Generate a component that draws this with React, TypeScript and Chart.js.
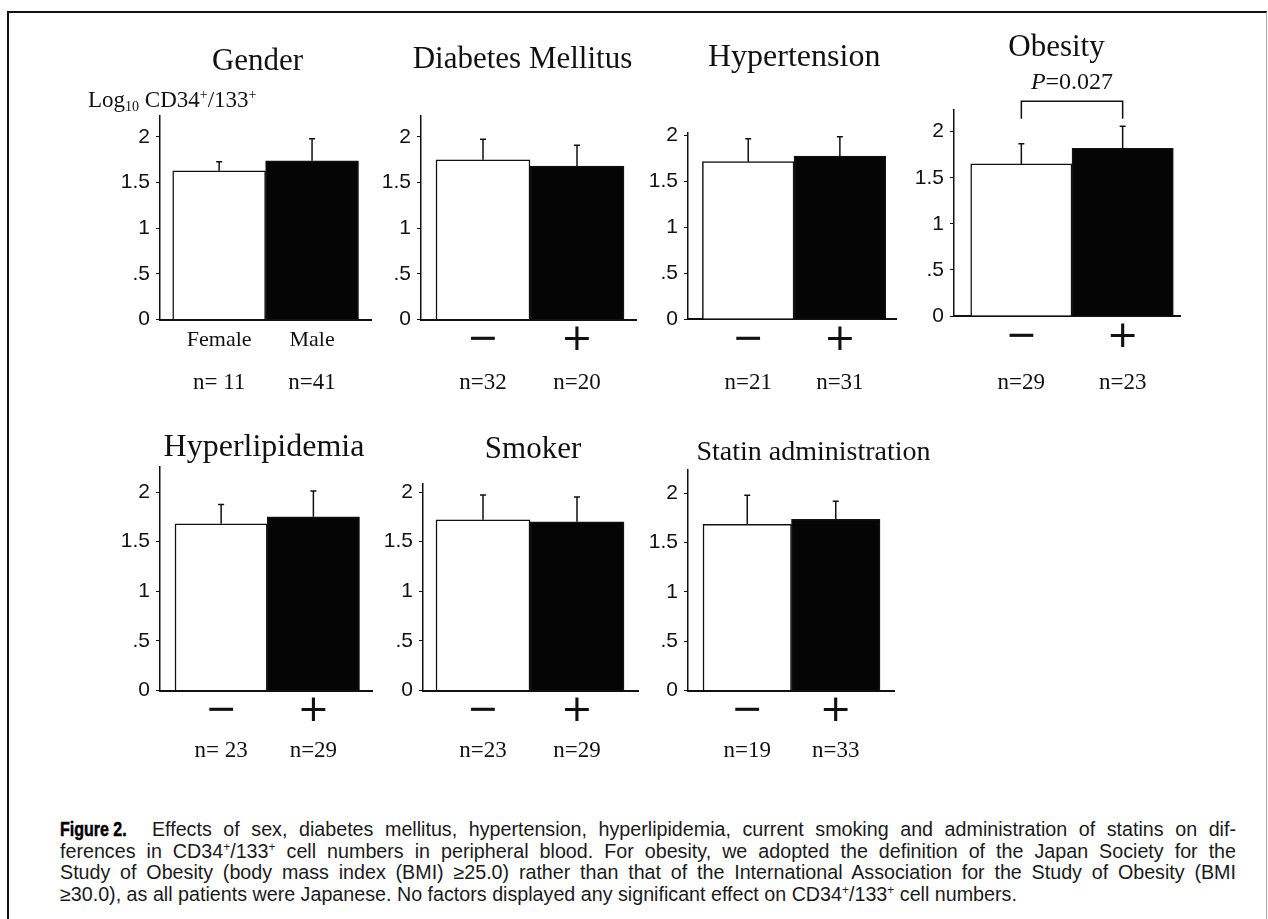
import React, { useEffect, useRef } from "react";
import { Chart, registerables } from "chart.js";

Chart.register(...registerables);

// ---------------- data ----------------
const panelTitles = [
  "Gender",
  "Diabetes Mellitus",
  "Hypertension",
  "Obesity",
  "Hyperlipidemia",
  "Smoker",
  "Statin administration",
];
const groupLabels = [
  ["Female", "Male"],
  ["\u2212", "+"],
  ["\u2212", "+"],
  ["\u2212", "+"],
  ["\u2212", "+"],
  ["\u2212", "+"],
  ["\u2212", "+"],
];
const nLabels = [
  ["n= 11", "n=41"],
  ["n=32", "n=20"],
  ["n=21", "n=31"],
  ["n=29", "n=23"],
  ["n= 23", "n=29"],
  ["n=23", "n=29"],
  ["n=19", "n=33"],
];
// mean of log10 CD34+/133+ : white bar (female / absent), black bar (male / present)
const meanWhite = [1.63, 1.75, 1.71, 1.65, 1.68, 1.72, 1.685];
const meanBlack = [1.74, 1.68, 1.77, 1.82, 1.75, 1.7, 1.735];
// upper error (SD)
const sdWhite = [0.1, 0.225, 0.25, 0.22, 0.195, 0.25, 0.295];
const sdBlack = [0.24, 0.23, 0.21, 0.24, 0.26, 0.25, 0.185];
const yMax = [2.23, 2.23, 2.02, 2.24, 2.25, 2.08, 2.24];
const yTickValues = [0, 0.5, 1, 1.5, 2];
const yTickLabels = ["0", ".5", "1", "1.5", "2"];
// significance (Obesity panel)
const sigPanel = 3;
const sigBracketTop = 2.33;
const sigBracketFoot = 2.14;
const sigLabelLevel = 2.53;
const sigLabelItalic = "P";
const sigLabelRest = "=0.027";

// ---------------- layout (pixels) ----------------
type Lay = {
  axisX: number; barStart: number; barEnd: number; baseEnd: number;
  zeroY: number; twoY: number; top: number; bottom: number;
  titleX: number; titleY: number; titleSize: number; nPad: number;
};
const layouts: Lay[] = [
  { axisX: 160, barStart: 172.7, barEnd: 358.5, baseEnd: 371, zeroY: 319.5, twoY: 137, top: 15, bottom: 405, titleX: 257.5, titleY: 61.7, titleSize: 31, nPad: 12 },
  { axisX: 421, barStart: 436, barEnd: 624, baseEnd: 636, zeroY: 319.5, twoY: 137, top: 15, bottom: 405, titleX: 522.5, titleY: 60, titleSize: 31, nPad: 12 },
  { axisX: 688.3, barStart: 702.7, barEnd: 886, baseEnd: 897, zeroY: 319, twoY: 135, top: 15, bottom: 405, titleX: 794.5, titleY: 58, titleSize: 32, nPad: 12 },
  { axisX: 954, barStart: 970.7, barEnd: 1173.3, baseEnd: 1180, zeroY: 316, twoY: 131.7, top: 15, bottom: 405, titleX: 1056.5, titleY: 48, titleSize: 31, nPad: 15 },
  { axisX: 160, barStart: 175, barEnd: 359.5, baseEnd: 372, zeroY: 690.6, twoY: 492, top: 400, bottom: 790, titleX: 264, titleY: 448, titleSize: 32, nPad: 9 },
  { axisX: 423, barStart: 436, barEnd: 624, baseEnd: 638, zeroY: 690.6, twoY: 492, top: 400, bottom: 790, titleX: 533, titleY: 450, titleSize: 31, nPad: 9 },
  { axisX: 688, barStart: 703, barEnd: 880, baseEnd: 894, zeroY: 690.6, twoY: 493.3, top: 400, bottom: 790, titleX: 813.5, titleY: 453, titleSize: 28, nPad: 9 },
];

const INK = "#111";
const SERIF = '"Liberation Serif", "DejaVu Serif", serif';
const SANS = '"Liberation Sans", Arial, sans-serif';

const errorBarPlugin = {
  id: "errorBars",
  afterDatasetsDraw(chart: any, _a: any, opts: any) {
    const { ctx } = chart;
    const y = chart.scales.y;
    const meta = chart.getDatasetMeta(0);
    ctx.save();
    ctx.strokeStyle = INK;
    ctx.lineWidth = 1.5;
    (opts.means as number[]).forEach((m, k) => {
      const x = meta.data[k].x;
      const y0 = y.getPixelForValue(m);
      const y1 = y.getPixelForValue(m + opts.sds[k]);
      ctx.beginPath();
      ctx.moveTo(x, y0);
      ctx.lineTo(x, y1);
      ctx.moveTo(x - 3, y1);
      ctx.lineTo(x + 3, y1);
      ctx.stroke();
    });
    ctx.restore();
  },
};

const panelTitlePlugin = {
  id: "panelTitle",
  afterDraw(chart: any, _a: any, opts: any) {
    const { ctx } = chart;
    ctx.save();
    ctx.fillStyle = INK;
    ctx.font = `${opts.size}px ${SERIF}`;
    ctx.textAlign = "center";
    ctx.textBaseline = "middle";
    ctx.fillText(opts.text, opts.x, opts.y);
    ctx.restore();
  },
};

const sigPlugin = {
  id: "sigBracket",
  afterDraw(chart: any, _a: any, opts: any) {
    if (!opts.show) return;
    const { ctx } = chart;
    const y = chart.scales.y;
    const meta = chart.getDatasetMeta(0);
    const x0 = meta.data[0].x;
    const x1 = meta.data[1].x;
    const yt = y.getPixelForValue(sigBracketTop);
    const yf = y.getPixelForValue(sigBracketFoot);
    ctx.save();
    ctx.strokeStyle = INK;
    ctx.lineWidth = 1.5;
    ctx.beginPath();
    ctx.moveTo(x0, yf);
    ctx.lineTo(x0, yt);
    ctx.lineTo(x1, yt);
    ctx.lineTo(x1, yf);
    ctx.stroke();
    const ly = y.getPixelForValue(sigLabelLevel);
    ctx.fillStyle = INK;
    ctx.textBaseline = "middle";
    ctx.textAlign = "left";
    ctx.font = `italic 24px ${SERIF}`;
    const w1 = ctx.measureText(sigLabelItalic).width;
    ctx.font = `24px ${SERIF}`;
    const w2 = ctx.measureText(sigLabelRest).width;
    const sx = (x0 + x1) / 2 - (w1 + w2) / 2;
    ctx.font = `italic 24px ${SERIF}`;
    ctx.fillText(sigLabelItalic, sx, ly);
    ctx.font = `24px ${SERIF}`;
    ctx.fillText(sigLabelRest, sx + w1, ly);
    ctx.restore();
  },
};

function Panel({ i }: { i: number }) {
  const ref = useRef<HTMLCanvasElement>(null);
  const L = layouts[i];
  const left = L.axisX - 90;
  const right = L.axisX + 300;
  const cw = right - left;
  const ch = L.bottom - L.top;

  useEffect(() => {
    const unit = (L.barEnd - L.barStart) / 2;
    const c0 = L.barStart + unit / 2;
    const xMin = (L.axisX - c0) / unit;
    const xMax = (L.baseEnd - c0) / unit;
    const pxPerUnit = (L.zeroY - L.twoY) / 2;
    const areaTop = L.zeroY - yMax[i] * pxPerUnit;
    const h1 = 40;
    const h2 = L.bottom - L.zeroY - h1;
    const idx = groupLabels[i].map((_, k) => k);
    const isGender = i === 0;

    const chart = new Chart(ref.current as HTMLCanvasElement, {
      type: "bar",
      data: {
        datasets: [
          {
            data: [
              { x: idx[0], y: meanWhite[i] },
              { x: idx[1], y: meanBlack[i] },
            ],
            backgroundColor: ["#ffffff", "#050505"],
            borderColor: INK,
            borderWidth: 1.5,
            barPercentage: 1,
            categoryPercentage: 1,
            xAxisID: "x",
            yAxisID: "y",
          } as any,
        ],
      },
      options: {
        animation: false,
        responsive: false,
        layout: {
          padding: { left: 0, top: areaTop - L.top, right: right - L.baseEnd, bottom: 0 },
        },
        plugins: {
          legend: { display: false },
          tooltip: { enabled: false },
          title: { display: false },
          errorBars: { means: [meanWhite[i], meanBlack[i]], sds: [sdWhite[i], sdBlack[i]] },
          panelTitle: { text: panelTitles[i], x: L.titleX - left, y: L.titleY - L.top, size: L.titleSize },
          sigBracket: { show: i === sigPanel },
        } as any,
        scales: {
          x: {
            type: "linear",
            position: "bottom",
            offset: false,
            weight: 0,
            min: xMin,
            max: xMax,
            afterBuildTicks: (s: any) => {
              s.ticks = idx.map((v) => ({ value: v }));
            },
            afterFit: (s: any) => {
              s.height = h1;
            },
            ticks: {
              autoSkip: false,
              maxRotation: 0,
              color: INK,
              padding: isGender ? 10 : 2,
              font: isGender
                ? { family: SERIF, size: 22, lineHeight: 1 }
                : { family: '"DejaVu Sans", sans-serif', size: 38, lineHeight: 1 },
              callback: (v: any) => groupLabels[i][Number(v)] ?? "",
            },
            grid: { display: false, drawTicks: false, offset: false },
            border: { display: true, color: INK, width: 2 },
          },
          x2: {
            type: "linear",
            position: "bottom",
            offset: false,
            weight: 1,
            min: xMin,
            max: xMax,
            afterBuildTicks: (s: any) => {
              s.ticks = idx.map((v) => ({ value: v }));
            },
            afterFit: (s: any) => {
              s.height = h2;
            },
            ticks: {
              autoSkip: false,
              maxRotation: 0,
              color: INK,
              padding: L.nPad,
              font: { family: SERIF, size: 23, lineHeight: 1 },
              callback: (v: any) => nLabels[i][Number(v)] ?? "",
            },
            grid: { display: false, drawTicks: false, offset: false },
            border: { display: false },
          },
          y: {
            type: "linear",
            position: "left",
            min: 0,
            max: yMax[i],
            afterBuildTicks: (s: any) => {
              s.ticks = yTickValues.map((v) => ({ value: v }));
            },
            afterFit: (s: any) => {
              s.width = L.axisX - left;
            },
            ticks: {
              color: INK,
              padding: 6,
              font: { family: SANS, size: 21 },
              callback: (v: any) => {
                const k = yTickValues.indexOf(Number(v));
                return k >= 0 ? yTickLabels[k] : "";
              },
            },
            grid: {
              display: true,
              drawOnChartArea: false,
              drawTicks: true,
              tickLength: 4,
              color: INK,
              lineWidth: 1,
            },
            border: { display: true, color: INK, width: 1.5 },
          },
        } as any,
      },
      plugins: [errorBarPlugin, panelTitlePlugin, sigPlugin] as any,
    });
    return () => chart.destroy();
  }, []);

  return (
    <canvas
      ref={ref}
      width={cw}
      height={ch}
      style={{ position: "absolute", left, top: L.top, width: cw, height: ch }}
    />
  );
}

const supStyle: React.CSSProperties = { fontSize: 12, verticalAlign: 7, lineHeight: 0 };

const lineStyle: React.CSSProperties = {
  whiteSpace: "nowrap",
  textAlign: "justify",
  textAlignLast: "justify",
  height: 21.5,
};

export default function App() {
  return (
    <div
      style={{
        position: "absolute",
        left: 0,
        top: 0,
        width: 1268,
        height: 919,
        overflow: "hidden",
        background: "#ffffff",
      }}
    >
      <div
        style={{
          position: "absolute",
          left: 7,
          top: 11,
          width: 1257,
          height: 960,
          borderLeft: "2px solid #111",
          borderTop: "2px solid #111",
          borderRight: "1px solid #aaa",
        }}
      />
      {layouts.map((_, i) => (
        <Panel key={i} i={i} />
      ))}
      <div
        style={{
          position: "absolute",
          left: 88,
          top: 87,
          font: `23px ${SERIF}`,
          lineHeight: "26px",
          whiteSpace: "nowrap",
          color: INK,
        }}
      >
        Log<span style={{ fontSize: 14, verticalAlign: -4, lineHeight: 0 }}>10</span> CD34
        <span style={{ fontSize: 14, verticalAlign: 8, lineHeight: 0 }}>+</span>/133
        <span style={{ fontSize: 14, verticalAlign: 8, lineHeight: 0 }}>+</span>
      </div>
      <div
        style={{
          position: "absolute",
          left: 60,
          top: 819,
          width: 1176,
          font: `19.7px ${SANS}`,
          lineHeight: "21.5px",
          color: "#1a1a1a",
        }}
      >
        <div style={lineStyle}>
          <span
            style={{
              display: "inline-block",
              fontFamily: SANS,
              fontWeight: 700,
              fontSize: 20,
              transform: "scaleX(0.8)",
              transformOrigin: "left center",
              marginRight: -3,
              color: "#000",
              WebkitTextStroke: "0.5px #000",
            }}
          >
            Figure 2.
          </span>{" "}
          Effects of sex, diabetes mellitus, hypertension, hyperlipidemia, current smoking and administration of statins on dif-
        </div>
        <div style={lineStyle}>
          ferences in CD34<sup style={supStyle}>+</sup>/133<sup style={supStyle}>+</sup> cell numbers in peripheral blood. For
          obesity, we adopted the definition of the Japan Society for the
        </div>
        <div style={lineStyle}>
          Study of Obesity (body mass index (BMI) ≥25.0) rather than that of the International Association for the Study of Obesity (BMI
        </div>
        <div style={{ whiteSpace: "nowrap", height: 21.5 }}>
          ≥30.0), as all patients were Japanese. No factors displayed any significant effect on CD34<sup style={supStyle}>+</sup>/133
          <sup style={supStyle}>+</sup> cell numbers.
        </div>
      </div>
    </div>
  );
}
